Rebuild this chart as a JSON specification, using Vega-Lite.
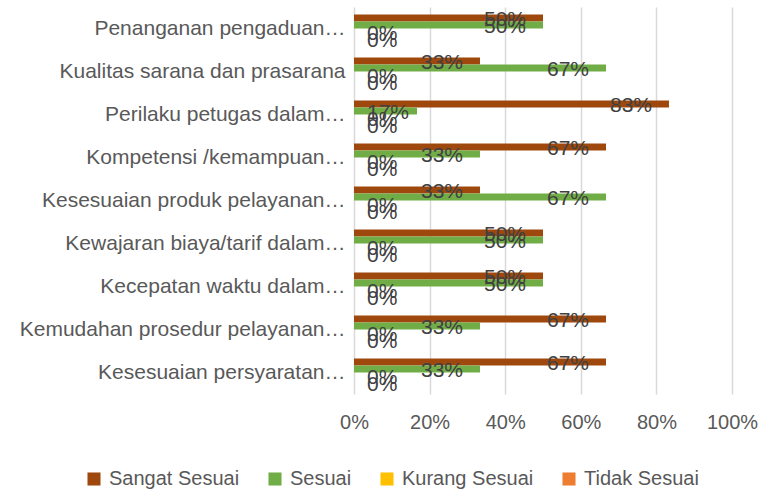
{
  "$schema": "https://vega.github.io/schema/vega-lite/v6.json",
  "width": 378,
  "height": 387,
  "autosize": {"type": "none"},
  "padding": {"left": 354, "top": 7, "right": 28, "bottom": 99},
  "background": "white",
  "config": {
    "view": {"stroke": null},
    "font": "Liberation Sans",
    "axis": {"labelFont": "Liberation Sans", "labelColor": "#595959", "labelFontSize": 20},
    "legend": {"labelFont": "Liberation Sans", "labelColor": "#595959", "labelFontSize": 20}
  },
  "data": {
    "values": [
      {"aspek": "Penanganan pengaduan…", "kategori": "Sangat Sesuai", "nilai": 0.5},
      {"aspek": "Penanganan pengaduan…", "kategori": "Sesuai", "nilai": 0.5},
      {"aspek": "Penanganan pengaduan…", "kategori": "Kurang Sesuai", "nilai": 0},
      {"aspek": "Penanganan pengaduan…", "kategori": "Tidak Sesuai", "nilai": 0},
      {"aspek": "Kualitas sarana dan prasarana", "kategori": "Sangat Sesuai", "nilai": 0.3333},
      {"aspek": "Kualitas sarana dan prasarana", "kategori": "Sesuai", "nilai": 0.6667},
      {"aspek": "Kualitas sarana dan prasarana", "kategori": "Kurang Sesuai", "nilai": 0},
      {"aspek": "Kualitas sarana dan prasarana", "kategori": "Tidak Sesuai", "nilai": 0},
      {"aspek": "Perilaku petugas dalam…", "kategori": "Sangat Sesuai", "nilai": 0.8333},
      {"aspek": "Perilaku petugas dalam…", "kategori": "Sesuai", "nilai": 0.1667},
      {"aspek": "Perilaku petugas dalam…", "kategori": "Kurang Sesuai", "nilai": 0},
      {"aspek": "Perilaku petugas dalam…", "kategori": "Tidak Sesuai", "nilai": 0},
      {"aspek": "Kompetensi /kemampuan…", "kategori": "Sangat Sesuai", "nilai": 0.6667},
      {"aspek": "Kompetensi /kemampuan…", "kategori": "Sesuai", "nilai": 0.3333},
      {"aspek": "Kompetensi /kemampuan…", "kategori": "Kurang Sesuai", "nilai": 0},
      {"aspek": "Kompetensi /kemampuan…", "kategori": "Tidak Sesuai", "nilai": 0},
      {"aspek": "Kesesuaian produk pelayanan…", "kategori": "Sangat Sesuai", "nilai": 0.3333},
      {"aspek": "Kesesuaian produk pelayanan…", "kategori": "Sesuai", "nilai": 0.6667},
      {"aspek": "Kesesuaian produk pelayanan…", "kategori": "Kurang Sesuai", "nilai": 0},
      {"aspek": "Kesesuaian produk pelayanan…", "kategori": "Tidak Sesuai", "nilai": 0},
      {"aspek": "Kewajaran biaya/tarif dalam…", "kategori": "Sangat Sesuai", "nilai": 0.5},
      {"aspek": "Kewajaran biaya/tarif dalam…", "kategori": "Sesuai", "nilai": 0.5},
      {"aspek": "Kewajaran biaya/tarif dalam…", "kategori": "Kurang Sesuai", "nilai": 0},
      {"aspek": "Kewajaran biaya/tarif dalam…", "kategori": "Tidak Sesuai", "nilai": 0},
      {"aspek": "Kecepatan waktu dalam…", "kategori": "Sangat Sesuai", "nilai": 0.5},
      {"aspek": "Kecepatan waktu dalam…", "kategori": "Sesuai", "nilai": 0.5},
      {"aspek": "Kecepatan waktu dalam…", "kategori": "Kurang Sesuai", "nilai": 0},
      {"aspek": "Kecepatan waktu dalam…", "kategori": "Tidak Sesuai", "nilai": 0},
      {"aspek": "Kemudahan prosedur pelayanan…", "kategori": "Sangat Sesuai", "nilai": 0.6667},
      {"aspek": "Kemudahan prosedur pelayanan…", "kategori": "Sesuai", "nilai": 0.3333},
      {"aspek": "Kemudahan prosedur pelayanan…", "kategori": "Kurang Sesuai", "nilai": 0},
      {"aspek": "Kemudahan prosedur pelayanan…", "kategori": "Tidak Sesuai", "nilai": 0},
      {"aspek": "Kesesuaian persyaratan…", "kategori": "Sangat Sesuai", "nilai": 0.6667},
      {"aspek": "Kesesuaian persyaratan…", "kategori": "Sesuai", "nilai": 0.3333},
      {"aspek": "Kesesuaian persyaratan…", "kategori": "Kurang Sesuai", "nilai": 0},
      {"aspek": "Kesesuaian persyaratan…", "kategori": "Tidak Sesuai", "nilai": 0}
    ]
  },
  "encoding": {
    "y": {
      "field": "aspek", "type": "nominal", "title": null,
      "scale": {
        "domain": ["Penanganan pengaduan…", "Kualitas sarana dan prasarana", "Perilaku petugas dalam…", "Kompetensi /kemampuan…", "Kesesuaian produk pelayanan…", "Kewajaran biaya/tarif dalam…", "Kecepatan waktu dalam…", "Kemudahan prosedur pelayanan…", "Kesesuaian persyaratan…"],
        "paddingInner": 0.35, "paddingOuter": 0.175
      },
      "axis": {"domain": false, "ticks": false, "labelPadding": 9, "labelLimit": 360, "labelFontSize": 21}
    },
    "yOffset": {
      "field": "kategori", "type": "nominal",
      "scale": {"domain": ["Sangat Sesuai", "Sesuai", "Kurang Sesuai", "Tidak Sesuai"], "paddingInner": 0, "paddingOuter": 0}
    }
  },
  "layer": [
    {
      "mark": {"type": "bar"},
      "encoding": {
        "x": {
          "field": "nilai", "type": "quantitative", "title": null,
          "scale": {"domain": [0, 1], "nice": false},
          "axis": {"values": [0, 0.2, 0.4, 0.6, 0.8, 1], "format": ".0%", "domain": false, "ticks": false, "labelPadding": 18, "labelFlush": false, "gridColor": "#D9D9D9", "gridWidth": 1.5}
        },
        "color": {
          "field": "kategori", "type": "nominal", "title": null,
          "scale": {"domain": ["Sangat Sesuai", "Sesuai", "Kurang Sesuai", "Tidak Sesuai"], "range": ["#9E480E", "#70AD47", "#FFC000", "#ED7D31"]},
          "legend": {"orient": "none", "direction": "horizontal", "legendX": -270, "legendY": 462, "symbolType": "square", "symbolSize": 170, "symbolStrokeWidth": 0, "columnPadding": 25, "labelOffset": 5}
        }
      }
    },
    {
      "transform": [{"filter": "datum.nilai >= 0.2"}],
      "mark": {"type": "text", "align": "right", "baseline": "middle", "dx": -17, "dy": 2, "fontSize": 21, "color": "#404040"},
      "encoding": {
        "x": {"field": "nilai", "type": "quantitative"},
        "text": {"field": "nilai", "type": "quantitative", "format": ".0%"}
      }
    },
    {
      "transform": [{"filter": "datum.nilai < 0.2"}],
      "mark": {"type": "text", "align": "left", "baseline": "middle", "dx": 13, "dy": 2, "fontSize": 21, "color": "#404040"},
      "encoding": {
        "x": {"datum": 0, "type": "quantitative"},
        "text": {"field": "nilai", "type": "quantitative", "format": ".0%"}
      }
    }
  ]
}
